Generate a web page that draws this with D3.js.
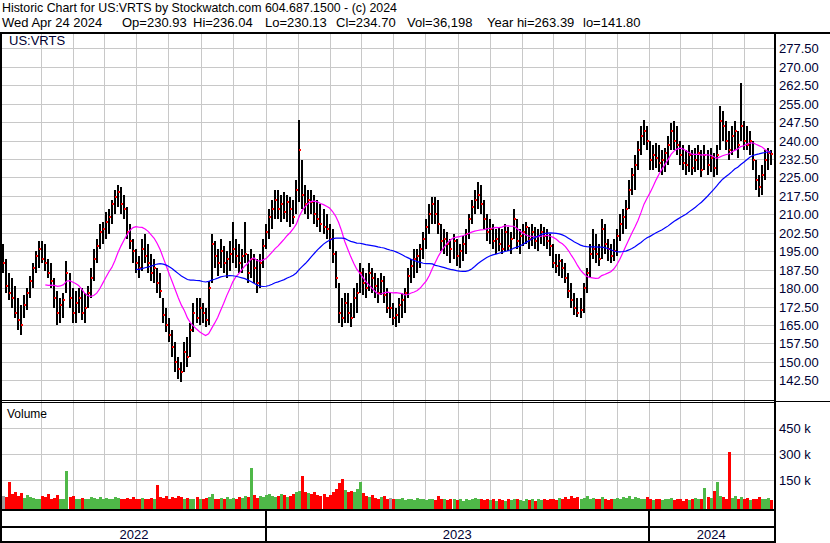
<!DOCTYPE html>
<html>
<head>
<meta charset="utf-8">
<script src="https://cdn.jsdelivr.net/npm/d3@7"></script>
<style>
  body { margin: 0; background: #fff; }
  svg text { font-family: Arial, "Liberation Sans", sans-serif; }
</style>
</head>
<body>
<script>
// bars are two trading days each, Apr 2022 -> Apr 24 2024
var highs = [198,192,186,184,181,176,173,177,180,185,190,195,199,199,198,192,190,184,179,176,
  178,191,186,180,179,180,180,178,181,188,196,200,206,207,211,212,216,220,222,221,
  218,213,206,200,196,193,200,202,198,194,192,188,186,176,172,168,163,158,152,150,
  158,160,166,174,176,176,174,172,183,202,199,196,200,197,195,199,207,200,198,196,
  207,194,196,194,192,194,200,206,212,216,220,220,218,219,218,217,216,224,248.3,232,
  222,220,220,218,216,214,212,210,206,204,195,182,176,178,178,174,180,182,190,188,
  186,190,188,186,184,186,185,180,178,174,172,176,178,180,188,192,196,196,198,203,
  208,214,217,217,216,206,204,203,200,202,200,198,201,204,210,216,220,223,222,216,
  210,208,206,204,205,204,206,205,203,212,208,204,206,207,205,206,205,204,206,205,
  204,202,198,194,194,192,190,186,182,178,176,176,182,188,198,204,202,198,208,206,
  200,198,200,204,210,212,216,224,229,234,240,246,248.3,246,240,238,239,238,236,237,
  242,247,248,246,240,238,236,238,236,237,238,236,238,236,237,235,238,254,252,248,
  244,246,248,244,263.4,248,246,244,240,232,226,230,236,237,236.04];
var lows = [186,178,175,172,168,163,161,168,171,176,180,186,188,190,187,184,180,172,165,166,
  168,178,172,166,166,170,167,166,172,176,183,190,196,198,200,202,206,210,213,210,
  208,200,196,190,186,184,187,190,186,183,182,178,176,166,162,158,152,146,143,141.8,
  146,148,152,162,166,165,166,164,165,182,188,185,188,186,184,187,190,188,186,186,
  190,182,184,182,178,180,188,196,200,204,208,208,207,208,207,205,206,210,215,212,
  210,208,210,206,205,203,202,200,196,190,180,166,164,166,166,164,168,170,178,177,
  176,179,178,176,174,177,174,170,168,165,164,166,168,170,176,182,184,186,188,192,
  196,202,206,206,202,195,194,193,190,192,189,188,191,194,200,206,210,212,210,204,
  199,198,196,194,195,194,195,195,194,200,196,194,197,198,196,197,196,195,198,197,
  196,193,188,186,185,184,182,176,172,169,168.4,168,170,178,184,192,190,189,192,194,
  191,190,191,193,199,202,204,212,218,220,228,234,238,236,228,228,229,227,226,227,
  230,236,236,234,230,228,226,227,226,227,228,225,228,226,227,225,226,236,240,236,
  232,234,236,233,240,236,236,234,228,220,217,218,224,228,230.13];
var closes = [190,181,178,176,170,167,165,173,178,183,188,193,196,192,190,186,183,176,170,173,
  175,186,176,170,174,176,170,172,178,184,192,197,203,204,207,209,214,217,219,214,
  212,203,199,195,190,188,196,193,190,186,188,182,179,169,165,161,156,150,147,146,
  154,152,163,170,168,172,170,167,180,198,193,190,195,190,192,194,196,193,190,193,
  194,186,192,188,182,190,197,203,209,212,216,212,214,211,215,212,209,220,236,218,
  214,216,215,210,208,206,205,204,200,194,184,170,168,174,170,168,176,178,186,182,
  180,186,184,181,178,183,177,172,172,168,169,173,175,178,185,189,192,193,196,200,
  205,210,214,210,206,199,200,198,196,199,193,195,198,202,208,213,216,218,214,208,
  203,204,199,200,198,196,203,197,200,208,199,201,203,205,200,203,199,201,203,201,
  199,197,190,189,191,188,184,179,175,172,170,171,180,186,194,196,194,192,204,198,
  196,193,195,201,206,209,212,220,226,230,236,242,244,240,232,234,233,231,232,235,
  238,244,240,238,234,231,230,234,229,232,235,228,234,230,233,229,234,248,246,240,
  236,242,244,238,246,240,238,240,232,224,221,226,232,235,234.7];
// volume in thousands
var volumes = [60,55,140,70,85,60,75,50,65,55, 50,45,40,60,55,70,45,50,65,45,
  40,205,55,60,45,40,50,45,40,55, 50,45,55,40,50,45,40,55,50,45,
  40,50,45,55,40,45,50,40,45,50, 45,123,55,50,60,45,55,50,60,55,
  45,50,40,45,55,40,45,50,55,70, 45,40,50,45,55,40,50,45,55,50,
  60,55,222,65,50,60,55,65,70,60, 55,60,70,65,55,60,70,80,90,175,
  85,75,70,80,65,60,70,55,65,80, 100,135,157,95,85,90,80,100,140,75,
  60,55,65,50,45,55,60,45,50,40, 45,40,50,35,45,40,35,50,40,45,
  35,40,45,35,60,45,40,35,45,40, 35,40,30,45,35,40,50,45,40,35,
  40,35,45,30,40,35,30,40,35,45, 40,35,30,40,35,45,30,40,35,40,
  35,45,40,35,50,40,55,45,60,50, 55,45,50,60,45,50,40,45,55,40,
  35,45,40,50,45,55,50,60,45,55, 50,40,45,55,40,35,45,40,35,45,
  40,50,35,45,40,30,45,35,40,50, 45,40,107,55,50,90,140,60,55,45,
  315,50,60,45,55,40,50,35,45,40, 55,45,40,50,35];

var priceTicks = [277.5,270,262.5,255,247.5,240,232.5,225,217.5,210,202.5,195,187.5,180,172.5,165,157.5,150,142.5];
var volumeTicks = [150,300,450];
// bar index where each month starts (Jun 2022 .. Apr 2024)
var monthTicks = [12.5,23,33.5,44,54.5,65.5,76,87,97.5,108,118.5,129,139.5,150.5,161,171.5,182,192.5,203,213.5,224,234.5,245];
var yearStarts = [87, 213.5];
var yearLabels = ["2022","2023","2024"];

var shortAvg = 15, longAvg = 45;

var headerLine1 = "Historic Chart for US:VRTS by Stockwatch.com 604.687.1500 - (c) 2024";
var headerFields = ["Wed Apr 24 2024", "Op=230.93", "Hi=236.04", "Lo=230.13", "Cl=234.70", "Vol=36,198", "Year hi=263.39", "lo=141.80"];

var width = 830, height = 543;
var plotLeft = 2, plotRight = 774;

var svg = d3.select("body").append("svg")
  .attr("width", width)
  .attr("height", height);

var x = d3.scaleLinear().domain([0, closes.length - 1]).range([3, 771]);
var y = d3.scaleLinear().domain([142.5, 277.5]).range([380.3, 48.3]);
var yVol = d3.scaleLinear().domain([0, 450]).range([506.3, 428.3]);

// grid
var grid = svg.append("g").attr("shape-rendering", "crispEdges")
  .attr("stroke", "#c8c8c8").attr("stroke-width", 1);

grid.selectAll("line.h")
  .data(priceTicks)
  .enter().append("line")
  .attr("x1", plotLeft).attr("x2", plotRight)
  .attr("y1", function(d) { return Math.round(y(d)) + 0.5; })
  .attr("y2", function(d) { return Math.round(y(d)) + 0.5; });

grid.selectAll("line.vh")
  .data(volumeTicks)
  .enter().append("line")
  .attr("x1", plotLeft).attr("x2", plotRight)
  .attr("y1", function(d) { return Math.round(yVol(d)) + 0.5; })
  .attr("y2", function(d) { return Math.round(yVol(d)) + 0.5; });

grid.selectAll("line.v")
  .data(monthTicks)
  .enter().append("line")
  .attr("x1", function(d) { return Math.round(x(d)) + 0.5; })
  .attr("x2", function(d) { return Math.round(x(d)) + 0.5; })
  .attr("y1", 33).attr("y2", 510);

// price bars
var bars = svg.append("g").attr("shape-rendering", "crispEdges");
bars.selectAll("rect.bar")
  .data(closes)
  .enter().append("rect")
  .attr("x", function(d, i) { return Math.round(x(i)) - 1; })
  .attr("width", 2)
  .attr("y", function(d, i) { return y(highs[i]); })
  .attr("height", function(d, i) { return Math.max(1, y(lows[i]) - y(highs[i])); })
  .attr("fill", "#000");

bars.selectAll("rect.close")
  .data(closes)
  .enter().append("rect")
  .attr("x", function(d, i) { return Math.round(x(i)); })
  .attr("width", 2)
  .attr("y", function(d) { return Math.round(y(d)) - 1; })
  .attr("height", 2)
  .attr("fill", "#ff0000");

// moving averages
function movingAverage(values, n) {
  var out = [];
  for (var i = n - 1; i < values.length; i++) {
    out.push({ i: i, v: d3.mean(values.slice(i - n + 1, i + 1)) });
  }
  return out;
}

var maLine = d3.line()
  .x(function(d) { return x(d.i); })
  .y(function(d) { return y(d.v); });

svg.append("path")
  .attr("d", maLine(movingAverage(closes, shortAvg)))
  .attr("fill", "none")
  .attr("stroke", "#ff00ff")
  .attr("stroke-width", 1.2);

svg.append("path")
  .attr("d", maLine(movingAverage(closes, longAvg)))
  .attr("fill", "none")
  .attr("stroke", "#0000ff")
  .attr("stroke-width", 1.2);

// volume
svg.append("g").attr("shape-rendering", "crispEdges")
  .selectAll("rect")
  .data(volumes)
  .enter().append("rect")
  .attr("x", function(d, i) { return Math.round(x(i)) - 1; })
  .attr("width", 3)
  .attr("y", function(d) { return yVol(d); })
  .attr("height", function(d) { return yVol(0) - yVol(d) + 3; })
  .attr("fill", function(d, i) {
    if (i == 0 || closes[i] == closes[i - 1]) return "#a0a0a0";
    return closes[i] > closes[i - 1] ? "#4fb848" : "#ff0000";
  });

// frame
var frame = svg.append("g").attr("stroke", "#000").attr("shape-rendering", "crispEdges");
frame.append("line").attr("x1", 0).attr("x2", width).attr("y1", 32.5).attr("y2", 32.5).attr("stroke-width", 2);
frame.append("line").attr("x1", 1).attr("x2", 1).attr("y1", 32).attr("y2", 543).attr("stroke-width", 2);
frame.append("line").attr("x1", plotRight + 0.5).attr("x2", plotRight + 0.5).attr("y1", 32).attr("y2", 543).attr("stroke-width", 2);
frame.append("line").attr("x1", 0).attr("x2", plotRight).attr("y1", 400.5).attr("y2", 400.5).attr("stroke-width", 1);
frame.append("line").attr("x1", 0).attr("x2", plotRight).attr("y1", 402.5).attr("y2", 402.5).attr("stroke-width", 1);
frame.append("line").attr("x1", plotRight).attr("x2", width).attr("y1", 401).attr("y2", 401).attr("stroke-width", 1);
frame.append("line").attr("x1", 0).attr("x2", plotRight).attr("y1", 510).attr("y2", 510).attr("stroke-width", 2);
frame.append("line").attr("x1", 0).attr("x2", plotRight).attr("y1", 527).attr("y2", 527).attr("stroke-width", 2);
frame.append("line").attr("x1", 0).attr("x2", plotRight).attr("y1", 542).attr("y2", 542).attr("stroke-width", 2);
frame.selectAll("line.year")
  .data(yearStarts)
  .enter().append("line")
  .attr("x1", function(d) { return Math.round(x(d)); })
  .attr("x2", function(d) { return Math.round(x(d)); })
  .attr("y1", 510).attr("y2", 542)
  .attr("stroke-width", 2);

// axis labels
svg.append("g").selectAll("text")
  .data(priceTicks)
  .enter().append("text")
  .attr("x", 779)
  .attr("y", function(d) { return y(d) + 5; })
  .attr("font-size", 13)
  .attr("fill", "#000033")
  .text(function(d) { return d.toFixed(2); });

svg.append("g").selectAll("text")
  .data(volumeTicks)
  .enter().append("text")
  .attr("x", 779)
  .attr("y", function(d) { return yVol(d) + 5; })
  .attr("font-size", 13)
  .attr("fill", "#000033")
  .text(function(d) { return d + " k"; });

var yearBounds = [plotLeft].concat(yearStarts.map(function(d) { return x(d); })).concat([plotRight]);
svg.append("g").selectAll("text")
  .data(yearLabels)
  .enter().append("text")
  .attr("x", function(d, i) { return (yearBounds[i] + yearBounds[i + 1]) / 2; })
  .attr("y", 539)
  .attr("text-anchor", "middle")
  .attr("font-size", 13)
  .attr("fill", "#000033")
  .text(function(d) { return d; });

// titles
svg.append("text").attr("x", 2).attr("y", 12).attr("font-size", 13).attr("fill", "#000")
  .attr("textLength", 395).attr("lengthAdjust", "spacingAndGlyphs")
  .text(headerLine1);

// second line: each field at its own column, as in the original
var fieldX = [2, 122, 193, 265, 336, 407, 487, 583];
svg.append("g").selectAll("text")
  .data(headerFields)
  .enter().append("text")
  .attr("x", function(d, i) { return fieldX[i]; })
  .attr("y", 26.5)
  .attr("font-size", 13)
  .attr("fill", "#000")
  .text(function(d) { return d; });

svg.append("text").attr("x", 9).attr("y", 45).attr("font-size", 13).attr("fill", "#000033").text("US:VRTS");
svg.append("text").attr("x", 7).attr("y", 418).attr("font-size", 12).attr("fill", "#000").text("Volume");
</script>
</body>
</html>
